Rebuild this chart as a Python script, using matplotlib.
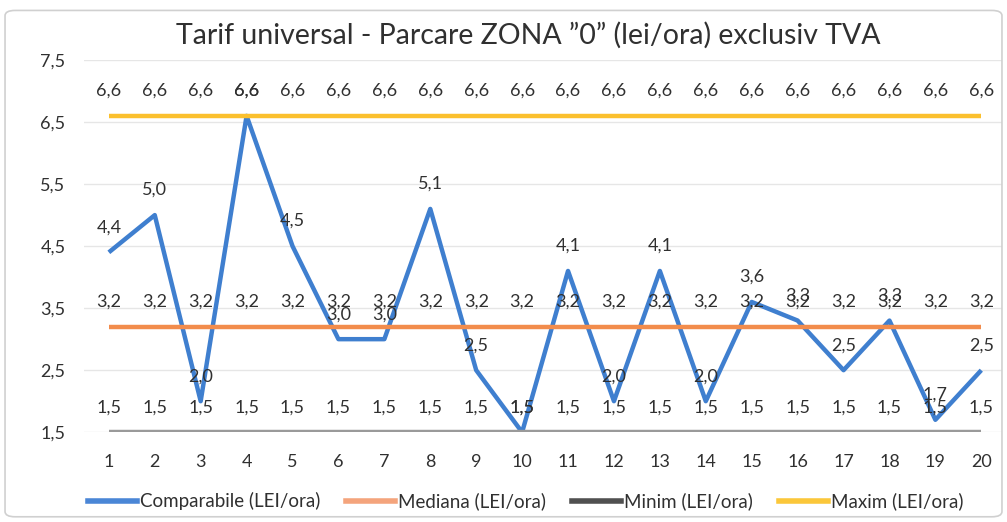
import numpy as np
import matplotlib
matplotlib.use('Agg')
import matplotlib.pyplot as plt
from matplotlib.patches import FancyBboxPatch

plt.rcParams['font.family'] = ['Lato', 'DejaVu Sans']

# data
pozitii = list(range(1, 21))
comparabile = [4.4, 5.0, 2.0, 6.6, 4.5, 3.0, 3.0, 5.1, 2.5, 1.5,
               4.1, 2.0, 4.1, 2.0, 3.6, 3.3, 2.5, 3.3, 1.7, 2.5]
mediana = [3.2] * 20
minim = [1.5] * 20
maxim = [6.6] * 20
y_ticks = [1.5, 2.5, 3.5, 4.5, 5.5, 6.5, 7.5]
titlu = 'Tarif universal - Parcare ZONA \u201d0\u201d (lei/ora) exclusiv TVA'

serii = [
    ('Comparabile (LEI/ora)', comparabile, '#3f7fcf'),
    ('Mediana (LEI/ora)', mediana, '#f28c4c'),
    ('Minim (LEI/ora)', minim, '#9a9a9a'),
    ('Maxim (LEI/ora)', maxim, '#fbc02d'),
]
legend_colors = ['#4a86d6', '#f4a47c', '#505050', '#fbc73a']


def fmt(v):
    return ('%.1f' % v).replace('.', ',')


fig = plt.figure(figsize=(10.07, 5.22), dpi=100)
ax = fig.add_axes([0.083, 0.172, 0.912, 0.713])

for name, vals, col in serii:
    ax.plot(pozitii, vals, color=col, lw=3.2, solid_capstyle='butt',
            label=name, zorder=3)

for name, vals, col in serii:
    for x, v in zip(pozitii, vals):
        ax.annotate(fmt(v), (x, v), xytext=(0, 18), textcoords='offset points',
                    ha='center', va='center', fontsize=13, color='#303030',
                    zorder=5)

ax.set_xlim(0.45, 20.45)
ax.set_ylim(1.5, 7.5)
ax.set_yticks(y_ticks)
ax.set_yticklabels([fmt(t) for t in y_ticks])
ax.set_xticks(pozitii)
ax.tick_params(axis='both', length=0, labelsize=13, colors='#303030')
ax.tick_params(axis='x', pad=16)
ax.tick_params(axis='y', pad=13)
ax.grid(axis='y', color='#e6e6e6', lw=1)
ax.set_axisbelow(True)
for s in ax.spines.values():
    s.set_visible(False)

fig.text(0.525, 0.933, titlu, ha='center', va='center', fontsize=20.5,
         color='#303030')

handles = []
for col, name in zip(legend_colors, [s[0] for s in serii]):
    h, = ax.plot([], [], color=col, lw=4, label=name)
    handles.append(h)
fig.legend(handles=handles, loc='center', bbox_to_anchor=(0.522, 0.04),
           ncol=4, frameon=False, fontsize=13.5, handlelength=2.6,
           handletextpad=0.15, columnspacing=1.4, labelcolor='#303030')

border = FancyBboxPatch((0.005, 0.01), 0.99, 0.97, transform=fig.transFigure,
                        boxstyle='round,pad=0,rounding_size=0.01',
                        fill=False, edgecolor='#d0d0d0', lw=1.2)
fig.patches.append(border)

fig.savefig('out.png', dpi=100)
